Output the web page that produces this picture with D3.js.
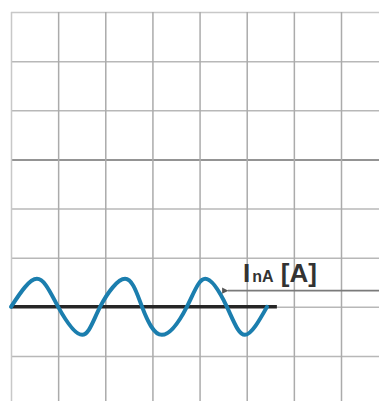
<!DOCTYPE html>
<html>
<head>
<meta charset="utf-8">
<script src="https://cdn.jsdelivr.net/npm/d3@7"></script>
<style>
  body { margin: 0; background: #fff; }
  svg { display: block; }
</style>
</head>
<body>
<svg></svg>
<script>
// grid positions (in grid units)
var xTicks = [0, 1, 2, 3, 4, 5, 6, 7];
var yTicks = [-1, 0, 1, 2, 3, 4, 5, 6];

// wave: zero crossings and peaks
var waveX = [0, 0.55, 1.0, 1.51, 1.89, 2.42, 2.78, 3.2, 3.73, 4.12, 4.58, 4.96, 5.43];
var waveY = [0, 0.57, 0, -0.57, 0, 0.57, 0, -0.57, 0, 0.57, 0, -0.57, 0];

// zero line and pointer
var baseX = [0, 5.64];
var arrowX = [4.6, 8];
var arrowY = 0.33;
var label = {main: "I", sub: "nA", unit: " [A]"};

var width = 379;
var height = 401;
var svg = d3.select('svg')
			.attr("width", width)
			.attr("height", height);

var x = d3.scaleLinear()
		  .domain([0, 7])
		  .range([11, 341]);

var y = d3.scaleLinear()
		  .domain([-1, 6])
		  .range([356, 12]);

// horizontal grid
var gy = svg.append('g')
	.attr("class", "grid-y")
	.attr("transform", "translate(" + x(0) + ",0)")
	.call(d3.axisLeft(y).tickValues(yTicks).tickSize(-(width - x(0))).tickFormat(""));
gy.select(".domain").remove();
gy.selectAll("line")
	.attr("stroke", d => d == 3 ? "#707070" : (d == 6 ? "#c8c8c8" : "#b8b8b8"))
	.attr("stroke-width", 1.5);

// vertical grid
var gx = svg.append('g')
	.attr("class", "grid-x")
	.attr("transform", "translate(0," + y(6) + ")")
	.call(d3.axisTop(x).tickValues(xTicks).tickSize(-(height - y(6))).tickFormat(""));
gx.select(".domain").remove();
gx.selectAll("line")
	.attr("stroke", d => d == 0 ? "#c8c8c8" : "#ababab")
	.attr("stroke-width", 1.5);

// zero line
svg.append("line")
	.attr("x1", x(baseX[0]))
	.attr("x2", x(baseX[1]))
	.attr("y1", y(0))
	.attr("y2", y(0))
	.attr("stroke", "#262626")
	.attr("stroke-width", 3.5);

// wave
var pts = waveX.map((d, i) => [d, waveY[i]]);
var line = d3.line()
	.x(d => x(d[0]))
	.y(d => y(d[1]))
	.curve(d3.curveNatural);

svg.append("path")
	.datum(pts)
	.attr("d", line)
	.attr("fill", "none")
	.attr("stroke", "#1b7eae")
	.attr("stroke-width", 4)
	.attr("stroke-linecap", "round");

// pointer arrow
svg.append("defs").append("marker")
	.attr("id", "head")
	.attr("viewBox", "0 0 10 10")
	.attr("refX", 1)
	.attr("refY", 5)
	.attr("markerWidth", 4)
	.attr("markerHeight", 4)
	.attr("orient", "auto-start-reverse")
	.append("path")
	.attr("d", "M0,5L10,0L10,10Z")
	.attr("fill", "#555");

svg.append("line")
	.attr("x1", x(arrowX[0]))
	.attr("x2", x(arrowX[1]))
	.attr("y1", y(arrowY))
	.attr("y2", y(arrowY))
	.attr("stroke", "#7a7a7a")
	.attr("stroke-width", 1.6)
	.attr("marker-start", "url(#head)");

// label
var t = svg.append("text")
	.attr("x", 243)
	.attr("y", 282)
	.attr("font-family", "Liberation Sans, Arial, sans-serif")
	.attr("font-weight", "bold")
	.attr("fill", "#333");
t.append("tspan").attr("font-size", "26px").text(label.main);
t.append("tspan").attr("font-size", "16px").attr("dx", 2).text(label.sub);
t.append("tspan").attr("font-size", "26px").attr("xml:space", "preserve").text(label.unit);
</script>
</body>
</html>
